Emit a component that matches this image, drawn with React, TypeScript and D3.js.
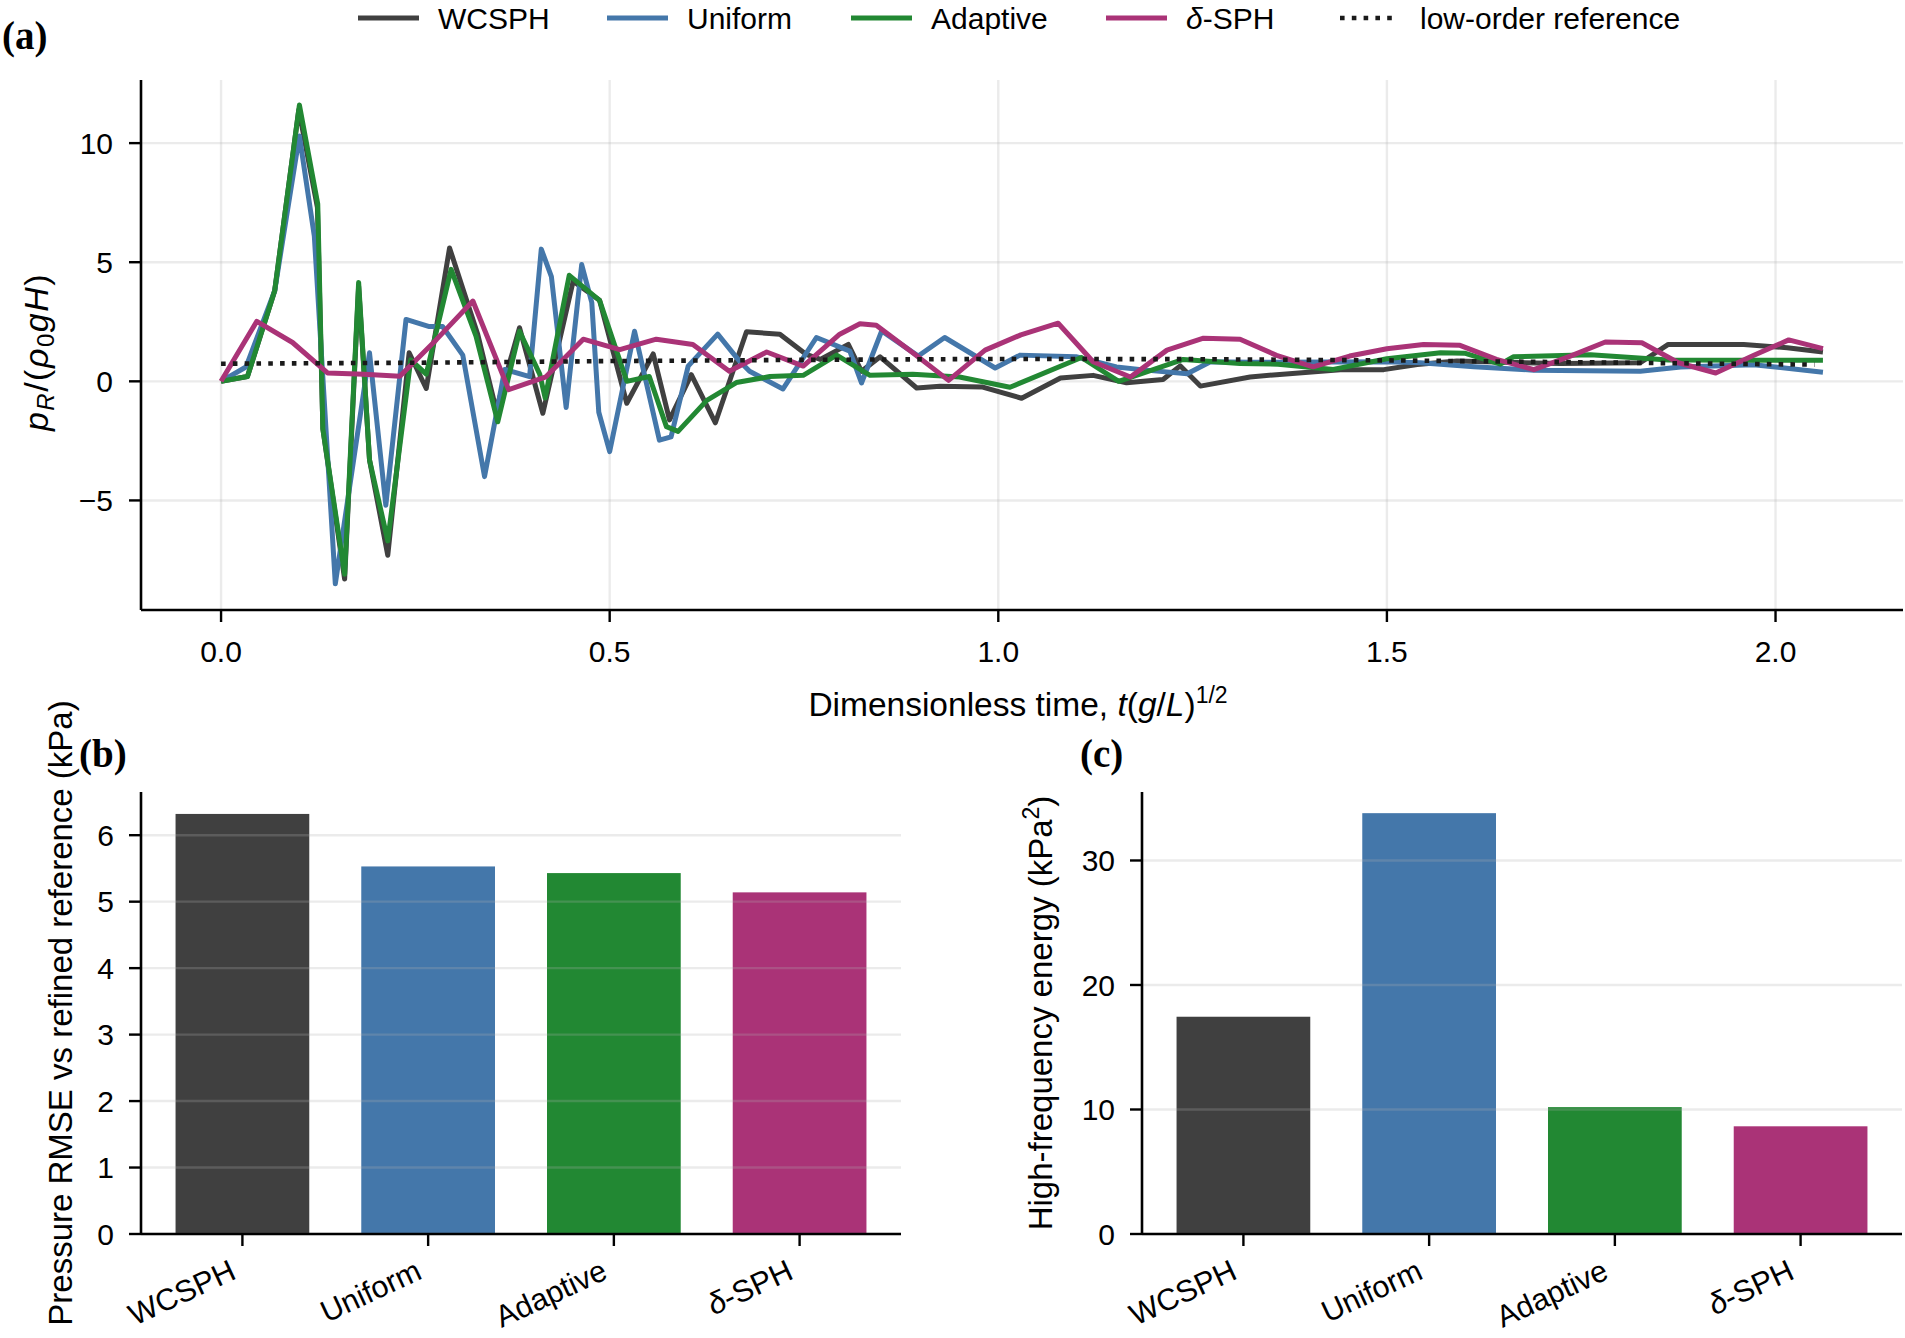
import React from 'react';
import * as d3 from 'd3';

const FONT = "'Liberation Sans', Arial, Helvetica, sans-serif";
const SERIF = "'Liberation Serif', 'Times New Roman', serif";

const METHODS = ['WCSPH', 'Uniform', 'Adaptive', 'δ-SPH'];
const COLORS = ['#404040', '#4477aa', '#228833', '#aa3377'];
const RMSE = [6.32, 5.53, 5.43, 5.14];
const HF_ENERGY = [17.45, 33.8, 10.19, 8.65];

const X_TICKS = [0, 0.5, 1.0, 1.5, 2.0];
const Y_TICKS = [-5, 0, 5, 10];
const RMSE_TICKS = [0, 1, 2, 3, 4, 5, 6];
const HF_TICKS = [0, 10, 20, 30];

// [t, p_R/(rho0 g H)]
const wcsph: [number, number][] = [
  [0, 0], [0.034, 0.2], [0.069, 3.8], [0.1, 11.4], [0.124, 7.3], [0.131, -2.0], [0.159, -8.3],
  [0.177, 4.0], [0.191, -3.3], [0.2145, -7.3], [0.242, 1.2], [0.264, -0.3], [0.294, 5.6],
  [0.33, 2.0], [0.354, -1.2], [0.384, 2.25], [0.414, -1.34], [0.453, 4.2], [0.487, 3.4],
  [0.522, -0.92], [0.556, 1.15], [0.577, -1.62], [0.605, 0.28], [0.636, -1.74], [0.676, 2.08],
  [0.719, 1.98], [0.753, 1.13], [0.771, 0.92], [0.807, 1.55], [0.824, 0.42], [0.848, 1.03],
  [0.895, -0.28], [0.925, -0.21], [0.98, -0.24], [1.03, -0.71], [1.08, 0.14], [1.122, 0.25],
  [1.165, -0.06], [1.212, 0.08], [1.234, 0.65], [1.26, -0.2], [1.324, 0.18], [1.358, 0.28],
  [1.44, 0.49], [1.496, 0.49], [1.539, 0.71], [1.59, 0.85], [1.723, 0.75], [1.826, 0.78],
  [1.862, 1.55], [1.959, 1.55], [2.015, 1.41], [2.061, 1.23],
];

const uniform: [number, number][] = [
  [0, 0], [0.032, 0.6], [0.069, 3.8], [0.1008, 10.3], [0.12, 6.1], [0.147, -8.5], [0.191, 1.2],
  [0.212, -5.2], [0.238, 2.6], [0.268, 2.3], [0.285, 2.3], [0.311, 1.1], [0.339, -4.0],
  [0.365, 0.5], [0.397, 0.2], [0.412, 5.55], [0.425, 4.4], [0.444, -1.1], [0.464, 4.9],
  [0.477, 3.3], [0.486, -1.3], [0.5, -2.95], [0.532, 2.1], [0.564, -2.47], [0.579, -2.33],
  [0.601, 0.64], [0.639, 1.98], [0.667, 0.85], [0.68, 0.42], [0.723, -0.32], [0.766, 1.84],
  [0.809, 1.27], [0.824, -0.07], [0.85, 2.12], [0.897, 1.06], [0.931, 1.84], [0.996, 0.56],
  [1.028, 1.1], [1.1, 1.03], [1.152, 0.6], [1.19, 0.47], [1.243, 0.32], [1.273, 0.82],
  [1.325, 0.8], [1.5, 0.82], [1.543, 0.78], [1.612, 0.61], [1.689, 0.47], [1.826, 0.42],
  [1.878, 0.6], [1.972, 0.7], [2.061, 0.38],
];

const adaptive: [number, number][] = [
  [0, 0], [0.034, 0.2], [0.069, 3.8], [0.1008, 11.6], [0.1244, 7.45], [0.131, -2.0],
  [0.159, -8.1], [0.177, 4.15], [0.191, -3.3], [0.2145, -6.7], [0.244, 0.9], [0.264, 0.3],
  [0.296, 4.7], [0.328, 1.9], [0.356, -1.7], [0.384, 2.1], [0.41, 0.3], [0.417, -0.7],
  [0.448, 4.45], [0.487, 3.4], [0.522, 0.0], [0.551, 0.2], [0.573, -1.9], [0.588, -2.1],
  [0.625, -0.8], [0.663, -0.05], [0.706, 0.2], [0.749, 0.25], [0.792, 1.1], [0.835, 0.25],
  [0.89, 0.3], [0.95, 0.18], [1.015, -0.25], [1.107, 1.0], [1.155, 0.0], [1.238, 0.92],
  [1.311, 0.75], [1.36, 0.72], [1.431, 0.5], [1.5, 0.95], [1.569, 1.2], [1.6, 1.18],
  [1.646, 0.72], [1.663, 1.03], [1.762, 1.12], [1.862, 0.9], [2.061, 0.88],
];

const deltaSph: [number, number][] = [
  [0, 0], [0.046, 2.52], [0.092, 1.63], [0.137, 0.35], [0.184, 0.3], [0.23, 0.21],
  [0.277, 1.75], [0.324, 3.37], [0.37, -0.35], [0.418, 0.19], [0.466, 1.77], [0.513, 1.33],
  [0.56, 1.77], [0.607, 1.55], [0.654, 0.42], [0.702, 1.23], [0.749, 0.64], [0.796, 1.98],
  [0.822, 2.42], [0.843, 2.35], [0.89, 1.2], [0.936, 0.04], [0.983, 1.31], [1.029, 1.95],
  [1.077, 2.44], [1.122, 0.82], [1.17, 0.18], [1.217, 1.31], [1.264, 1.81], [1.311, 1.77],
  [1.358, 1.09], [1.405, 0.61], [1.452, 1.06], [1.5, 1.37], [1.547, 1.55], [1.594, 1.51],
  [1.641, 0.92], [1.689, 0.49], [1.736, 1.06], [1.781, 1.65], [1.828, 1.62], [1.875, 0.78],
  [1.923, 0.35], [1.97, 1.06], [2.017, 1.74], [2.061, 1.37],
];

const lowOrder: [number, number][] = [
  [0, 0.74], [0.25, 0.78], [0.5, 0.85], [0.75, 0.9], [1.0, 0.94], [1.25, 0.93],
  [1.5, 0.88], [1.75, 0.8], [2.05, 0.7],
];

const SERIES = [wcsph, uniform, adaptive, deltaSph];

const GRID = '#b0b0b0';

const MethodLabel: React.FC<{ name: string }> = ({ name }) =>
  name.startsWith('δ') ? (
    <>
      <tspan fontStyle="italic">δ</tspan>
      {name.slice(1)}
    </>
  ) : (
    <>{name}</>
  );

interface BarPanelProps {
  values: number[];
  ticks: number[];
  yMax: number;
  left: number;
  right: number;
  label: string;
  ylabel: React.ReactNode;
  ylabelX: number;
}

const BarPanel: React.FC<BarPanelProps> = ({ values, ticks, yMax, left, right, label, ylabel, ylabelX }) => {
  const top = 792;
  const bottom = 1234;
  const x = d3.scaleLinear().domain([-0.546, 3.546]).range([left, right]);
  const y = d3.scaleLinear().domain([0, yMax]).range([bottom, top]);
  const w = x(0.36) - x(0);
  return (
    <g>
      {values.map((v, i) => (
        <rect key={i} x={x(i) - w} y={y(v)} width={2 * w} height={y(0) - y(v)} fill={COLORS[i]} />
      ))}
      {ticks.map((t) => (
        <line key={t} x1={left} x2={right} y1={y(t)} y2={y(t)} stroke={GRID} strokeOpacity={0.25} strokeWidth={2.4} />
      ))}
      <line x1={left} x2={left} y1={top} y2={bottom} stroke="#000" strokeWidth={2.6} />
      <line x1={left} x2={right} y1={bottom} y2={bottom} stroke="#000" strokeWidth={2.6} />
      {ticks.map((t) => (
        <g key={t}>
          <line x1={left - 12} x2={left} y1={y(t)} y2={y(t)} stroke="#000" strokeWidth={2.4} />
          <text x={left - 27} y={y(t) + 10.7} textAnchor="end" fontSize={30} fontFamily={FONT}>
            {t}
          </text>
        </g>
      ))}
      {METHODS.map((m, i) => (
        <g key={m}>
          <line x1={x(i)} x2={x(i)} y1={bottom} y2={bottom + 12} stroke="#000" strokeWidth={2.4} />
          <text
            transform={`translate(${x(i) - 14},${bottom + 24}) rotate(-25)`}
            textAnchor="end"
            dy="0.72em"
            fontSize={30.5}
            fontFamily={FONT}
          >
            <MethodLabel name={m} />
          </text>
        </g>
      ))}
      <text
        transform={`translate(${ylabelX},${(top + bottom) / 2}) rotate(-90)`}
        textAnchor="middle"
        fontSize={33}
        fontFamily={FONT}
      >
        {ylabel}
      </text>
      <text x={left - 62} y={767} fontSize={39} fontWeight="bold" fontFamily={SERIF}>
        {label}
      </text>
    </g>
  );
};

const App: React.FC = () => {
  const width = 1905;
  const height = 1338;
  const left = 141;
  const right = 1903;
  const top = 80;
  const bottom = 610;

  const x = d3.scaleLinear().domain([-0.103, 2.164]).range([left, right]);
  const y = d3.scaleLinear().domain([-9.6, 12.65]).range([bottom, top]);
  const line = d3
    .line<[number, number]>()
    .x((d) => x(d[0]))
    .y((d) => y(d[1]));

  const legendItems = [
    { name: 'WCSPH', x0: 358, tx: 438 },
    { name: 'Uniform', x0: 607, tx: 687 },
    { name: 'Adaptive', x0: 851, tx: 931 },
    { name: 'δ-SPH', x0: 1106, tx: 1186 },
  ];

  return (
    <svg
      width={width}
      height={height}
      style={{ position: 'absolute', left: 0, top: 0, background: '#fff' }}
      fontFamily={FONT}
    >
      <rect width={width} height={height} fill="#fff" />

      {/* panel (a) */}
      {X_TICKS.map((t) => (
        <line key={t} x1={x(t)} x2={x(t)} y1={top} y2={bottom} stroke={GRID} strokeOpacity={0.25} strokeWidth={2.4} />
      ))}
      {Y_TICKS.map((t) => (
        <line key={t} x1={left} x2={right} y1={y(t)} y2={y(t)} stroke={GRID} strokeOpacity={0.25} strokeWidth={2.4} />
      ))}
      {SERIES.map((s, i) => (
        <path key={i} d={line(s) ?? ''} fill="none" stroke={COLORS[i]} strokeWidth={5} strokeLinejoin="round" />
      ))}
      <path d={line(lowOrder) ?? ''} fill="none" stroke="#1a1a1a" strokeWidth={4.6} strokeDasharray="4.6 7.2" />

      <line x1={left} x2={left} y1={top} y2={bottom} stroke="#000" strokeWidth={2.6} />
      <line x1={left} x2={right} y1={bottom} y2={bottom} stroke="#000" strokeWidth={2.6} />
      {X_TICKS.map((t) => (
        <g key={t}>
          <line x1={x(t)} x2={x(t)} y1={bottom} y2={bottom + 12} stroke="#000" strokeWidth={2.4} />
          <text x={x(t)} y={bottom + 52} textAnchor="middle" fontSize={30}>
            {t.toFixed(1)}
          </text>
        </g>
      ))}
      {Y_TICKS.map((t) => (
        <g key={t}>
          <line x1={left - 12} x2={left} y1={y(t)} y2={y(t)} stroke="#000" strokeWidth={2.4} />
          <text x={left - 28} y={y(t) + 10.7} textAnchor="end" fontSize={30}>
            {t < 0 ? `\u2212${-t}` : t}
          </text>
        </g>
      ))}
      <text x={(left + right) / 2 - 4} y={716} textAnchor="middle" fontSize={33.5}>
        Dimensionless time, <tspan fontStyle="italic">t</tspan>(<tspan fontStyle="italic">g</tspan>/
        <tspan fontStyle="italic">L</tspan>)<tspan fontSize={23} dy={-13}>1/2</tspan>
      </text>
      <text
        transform={`translate(48,352) rotate(-90)`}
        textAnchor="middle"
        fontSize={34}
        letterSpacing={1.5}
      >
        <tspan fontStyle="italic">p</tspan>
        <tspan fontStyle="italic" fontSize={24} dy={6}>R</tspan>
        <tspan dy={-6}>/(</tspan>
        <tspan fontStyle="italic">ρ</tspan>
        <tspan fontSize={24} dy={6}>0</tspan>
        <tspan fontStyle="italic" dy={-6}>gH</tspan>
        <tspan>)</tspan>
      </text>
      <text x={2} y={49} fontSize={39} fontWeight="bold" fontFamily={SERIF}>
        (a)
      </text>

      {/* legend */}
      {legendItems.map((it, i) => (
        <g key={it.name}>
          <line x1={it.x0} x2={it.x0 + 61} y1={18} y2={18} stroke={COLORS[i]} strokeWidth={5} />
          <text x={it.tx} y={29} fontSize={30}>
            <MethodLabel name={it.name} />
          </text>
        </g>
      ))}
      <line x1={1340} x2={1396} y1={18} y2={18} stroke="#1a1a1a" strokeWidth={4.6} strokeDasharray="4.6 7.2" />
      <text x={1420} y={29} fontSize={30}>
        low-order reference
      </text>

      {/* panel (b) */}
      <BarPanel
        values={RMSE}
        ticks={RMSE_TICKS}
        yMax={6.65}
        left={141}
        right={901}
        label="(b)"
        ylabelX={72}
        ylabel="Pressure RMSE vs refined reference (kPa)"
      />

      {/* panel (c) */}
      <BarPanel
        values={HF_ENERGY}
        ticks={HF_TICKS}
        yMax={35.5}
        left={1142}
        right={1902}
        label="(c)"
        ylabelX={1052}
        ylabel={
          <>
            High-frequency energy (kPa<tspan fontSize={23} dy={-13}>2</tspan>
            <tspan dy={13}>)</tspan>
          </>
        }
      />
    </svg>
  );
};

export default App;
